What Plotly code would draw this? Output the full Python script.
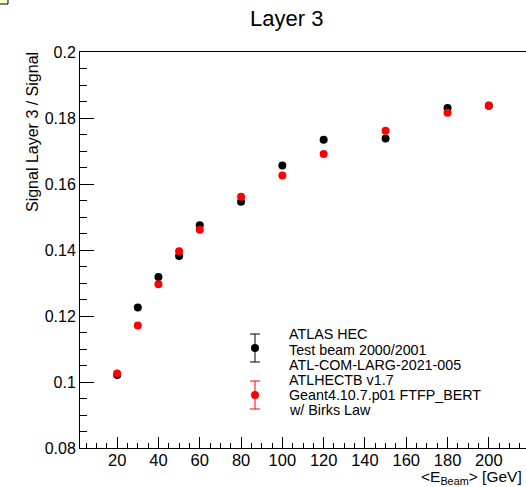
import plotly.graph_objects as go

# Beam energies [GeV]
energy = [20, 30, 40, 50, 60, 80, 100, 120, 150, 180, 200]

# Fraction of the signal in layer 3: test-beam data and Geant4 simulation
data_frac = [0.1021, 0.1226, 0.1318, 0.1382, 0.1475, 0.1546, 0.1656, 0.1734, 0.1738, 0.1830, 0.1837]
mc_frac = [0.1026, 0.1171, 0.1296, 0.1396, 0.1461, 0.1561, 0.1626, 0.1691, 0.1761, 0.1816, 0.1838]

y_ticks = [0.08, 0.10, 0.12, 0.14, 0.16, 0.18, 0.20]
y_tick_text = ["0.08", "0.1", "0.12", "0.14", "0.16", "0.18", "0.2"]

legend_data = ["ATLAS HEC", "Test beam 2000/2001", "ATL-COM-LARG-2021-005"]
legend_mc = ["ATLHECTB v1.7", "Geant4.10.7.p01 FTFP_BERT", "w/ Birks Law"]

W, H = 526, 487
ML, MR, MT, MB = 80, 0, 52, 39
PW, PH = W - ML - MR, H - MT - MB
FONT = "Liberation Sans, Arial, Helvetica, sans-serif"


def px(x):
    """Canvas pixel column -> paper x."""
    return (x - ML) / PW


def py(y):
    """Canvas pixel row -> paper y."""
    return (H - MB - y) / PH


fig = go.Figure()
fig.add_trace(go.Scatter(x=energy, y=data_frac, mode="markers",
                         marker=dict(color="black", size=8), showlegend=False))
fig.add_trace(go.Scatter(x=energy, y=mc_frac, mode="markers",
                         marker=dict(color="#ff0000", size=8), showlegend=False))

shapes = []
annotations = []

# Hand-drawn legend: marker with error bar, followed by text lines
def legend_symbol(color, yc):
    xc = 255
    shapes.append(dict(type="line", xref="paper", yref="paper",
                       x0=px(xc), x1=px(xc), y0=py(yc - 14), y1=py(yc + 14),
                       line=dict(color=color, width=1)))
    for dy in (-14, 14):
        shapes.append(dict(type="line", xref="paper", yref="paper",
                           x0=px(xc - 5), x1=px(xc + 5), y0=py(yc + dy), y1=py(yc + dy),
                           line=dict(color=color, width=1)))
    shapes.append(dict(type="circle", xref="paper", yref="paper",
                       x0=px(xc - 4), x1=px(xc + 4), y0=py(yc - 4), y1=py(yc + 4),
                       fillcolor=color, line=dict(color=color, width=0)))


legend_symbol("black", 348)
legend_symbol("#ff0000", 395)

for i, txt in enumerate(legend_data + legend_mc):
    yc = [334, 350, 364.5, 380, 395, 410][i]
    annotations.append(dict(text=txt, xref="paper", yref="paper", x=px(287), y=py(yc),
                            xanchor="left", yanchor="middle", showarrow=False,
                            font=dict(family=FONT, size=14.3, color="black")))

# Title and axis titles
annotations.append(dict(text="Layer 3", xref="paper", yref="paper", x=px(286), y=py(18),
                        xanchor="center", yanchor="middle", showarrow=False,
                        font=dict(family=FONT, size=22, color="black")))
annotations.append(dict(text="Signal Layer 3 / Signal", xref="paper", yref="paper",
                        x=px(32), y=py(50), xanchor="center", yanchor="top", textangle=-90,
                        showarrow=False, font=dict(family=FONT, size=16, color="black")))
annotations.append(dict(text="&lt;E<sub>Beam</sub>&gt; [GeV]", xref="paper", yref="paper",
                        x=px(524), y=py(466), xanchor="right", yanchor="top", showarrow=False,
                        font=dict(family=FONT, size=15.5, color="black")))

# Small boxed marker in the canvas corner
shapes.append(dict(type="rect", xref="paper", yref="paper",
                   x0=px(-2), x1=px(8), y0=py(4), y1=py(-2),
                   fillcolor="#ffffcc", line=dict(color="black", width=1)))

fig.update_layout(
    width=W, height=H,
    margin=dict(l=ML, r=MR, t=MT, b=MB),
    paper_bgcolor="white", plot_bgcolor="white",
    font=dict(family=FONT, size=16, color="black"),
    shapes=shapes, annotations=annotations,
    xaxis=dict(range=[2, 218], tick0=0, dtick=20, ticks="inside", ticklen=11,
               tickcolor="black", showline=True, linecolor="black", linewidth=1,
               mirror=True, showgrid=False, zeroline=False, ticklabelstandoff=-3,
               tickfont=dict(family=FONT, size=16.5),
               minor=dict(dtick=5, ticks="inside", ticklen=5, tickcolor="black")),
    yaxis=dict(range=[0.08, 0.2], tickvals=y_ticks, ticktext=y_tick_text,
               ticks="inside", ticklen=14, tickcolor="black", showline=True,
               linecolor="black", linewidth=1, mirror=True, showgrid=False,
               zeroline=False, tickfont=dict(family=FONT, size=16),
               minor=dict(dtick=0.005, tick0=0.08, ticks="inside", ticklen=7,
                          tickcolor="black")),
)

fig.write_html("out.html")
